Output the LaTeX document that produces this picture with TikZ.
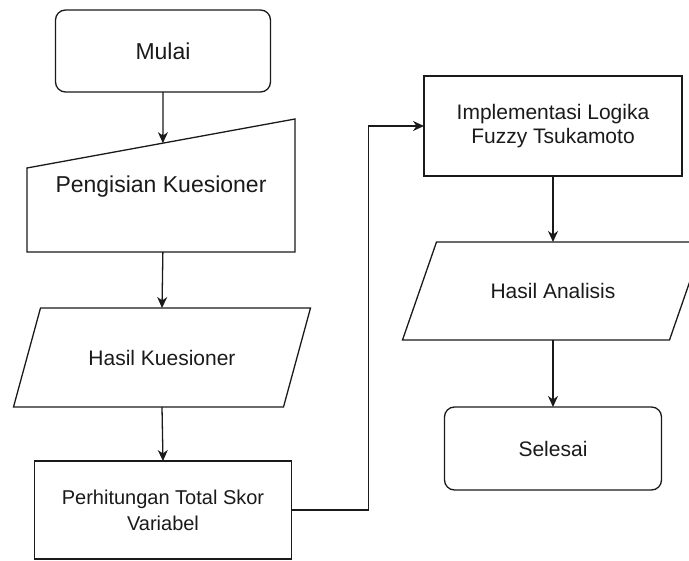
\documentclass[tikz,border=0pt]{standalone}
\usepackage{fontspec}
\setmainfont{Liberation Sans}
\usepackage{tikz}
\usetikzlibrary{positioning, arrows.meta}
\definecolor{lineDark}{HTML}{1A1A1A}

\tikzset{
  base/.style={draw=lineDark, line width=1.3pt, inner sep=0pt, outer sep=0pt,
               align=center, text=lineDark, font=\fontsize{21}{24}\selectfont},
  terminal/.style={base, rounded corners=10pt},
  process/.style={base, rectangle},
  iotext/.style={base, draw=none},
  flow/.style={draw=lineDark, line width=1.3pt, -{Stealth[length=11pt, width=10pt, inset=3.5pt]}}
}

\begin{document}
\begin{tikzpicture}[x=1pt, y=-1pt]
  \useasboundingbox (0,0) rectangle (689,561);
  \clip (0,0) rectangle (689,561);

  % left column
  \node[terminal, minimum width=215pt, minimum height=82pt,
        font=\fontsize{23}{26}\selectfont] (mulai) at (163,51) {Mulai};

  % manual input
  \draw[base] (27,252) -- (27,168) -- coordinate[pos=0.507] (pengisianIn) (295,119)
              -- (295,252) -- coordinate[pos=0.493] (pengisianOut) cycle;
  \node[iotext, font=\fontsize{23}{26}\selectfont] (pengisian) at (161,187) {Pengisian Kuesioner};

  \node[iotext, minimum width=270pt, minimum height=99pt] (hasilK) at (162,357.5) {Hasil Kuesioner};
  \draw[base] ([xshift=-13.5pt]hasilK.south west) -- ([xshift=13.5pt]hasilK.north west)
              -- ([xshift=13.5pt]hasilK.north east) -- ([xshift=-13.5pt]hasilK.south east) -- cycle;

  \node[process, minimum width=257pt, minimum height=98pt,
        font=\fontsize{20}{26}\selectfont] (hitung) at (163,510) {Perhitungan Total Skor\\Variabel};

  % right column
  \node[process, minimum width=258pt, minimum height=100pt] (fuzzy) at (553,126)
        {Implementasi Logika\\Fuzzy Tsukamoto};

  \node[iotext, minimum width=267pt, minimum height=98pt] (hasilA) at (553,291) {Hasil Analisis};
  \draw[base] ([xshift=-17pt]hasilA.south west) -- ([xshift=17pt]hasilA.north west)
              -- ([xshift=17pt]hasilA.north east) -- ([xshift=-17pt]hasilA.south east) -- cycle;

  \node[terminal, minimum width=217pt, minimum height=83pt] (selesai) at (553,448.5) {Selesai};

  % connectors
  \draw[flow] (mulai.south) -- (pengisianIn);
  \draw[flow] (pengisianOut) -- (hasilK.north);
  \draw[flow] (hasilK.south) -- (hitung.north);
  \draw[flow] (hitung.east) -- ++(77,0) |- (fuzzy.west);
  \draw[flow] (fuzzy.south) -- (hasilA.north);
  \draw[flow] (hasilA.south) -- (selesai.north);
\end{tikzpicture}
\end{document}
